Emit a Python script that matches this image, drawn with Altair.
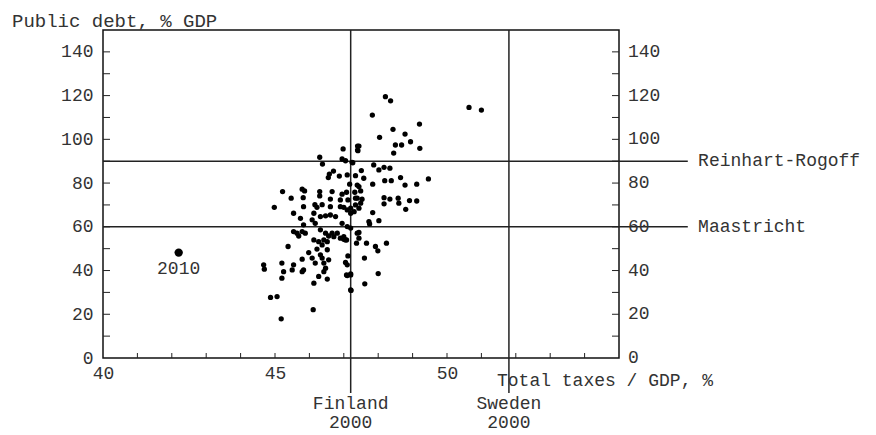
import altair as alt
import pandas as pd

# tax / GDP (%) and public debt (% GDP)
taxes = [
    46.98, 47.40, 47.40, 46.30, 46.38, 46.95, 47.05, 47.24, 46.70, 46.58,
    46.55, 46.87, 47.10, 47.34, 47.17, 47.39, 45.22, 45.47, 45.79, 45.86,
    45.82, 46.30, 46.30, 46.66, 46.95, 47.08, 47.12, 47.32, 47.39, 46.61,
    46.90, 44.98, 45.83, 46.16, 46.37, 46.22, 46.61, 46.90, 47.00, 47.20,
    45.54, 45.74, 46.13, 46.32, 46.47, 46.61, 46.76, 46.08, 45.83, 46.17,
    46.95, 47.10, 47.20, 45.54, 45.64, 45.79, 45.88, 45.69, 46.32, 46.47,
    46.56, 46.66, 46.71, 46.81, 46.90, 47.00, 47.05, 46.42, 46.52, 46.13,
    46.27, 46.37, 47.39, 45.38, 45.98, 46.22, 46.32, 46.52, 45.79, 46.08,
    46.17, 46.37, 46.42, 46.56, 44.67, 44.69, 45.20, 45.25, 45.54, 45.50,
    45.83, 45.79, 46.47, 46.42, 45.20, 46.27, 46.52, 46.13, 47.10, 47.08,
    47.20, 47.20, 44.87, 45.06, 46.11, 45.18,
    48.21, 48.36, 47.83, 50.64, 51.00, 49.20, 48.43, 48.04, 48.78, 48.94,
    48.50, 48.68, 49.21, 48.45, 47.44, 47.41, 47.26, 47.87, 48.02, 48.17,
    48.34, 47.51, 47.58, 48.65, 49.46, 48.19, 48.38, 47.84, 48.78, 49.12,
    47.44, 47.49, 48.17, 48.34, 48.58, 48.91, 49.12, 47.34, 47.53,
    48.17, 48.60, 48.80, 47.84, 47.73, 47.75, 48.02, 47.34, 47.49, 47.44,
    47.20, 47.10, 47.30, 47.44, 47.44, 47.37, 47.66, 47.92, 47.99, 48.24,
    47.00, 47.08, 47.12, 47.05, 47.60, 47.10, 47.20, 48.00, 47.61, 47.21,
]
debt = [
    95.6, 96.9, 95.1, 91.8, 88.7, 91.0, 90.2, 89.5, 85.5, 84.1,
    82.5, 83.2, 83.7, 83.4, 79.5, 79.1, 76.1, 73.1, 77.2, 76.4,
    73.3, 76.1, 74.1, 76.1, 74.9, 75.8, 72.3, 75.8, 73.1, 72.7,
    72.3, 68.9, 69.2, 70.1, 70.1, 68.9, 69.2, 69.2, 68.9, 68.5,
    66.2, 63.9, 66.2, 64.7, 65.0, 65.4, 64.7, 63.2, 60.9, 61.6,
    61.6, 60.1, 59.4, 57.8, 57.1, 57.8, 57.1, 55.8, 58.6, 57.1,
    55.8, 57.1, 55.5, 57.1, 54.8, 55.5, 54.0, 54.0, 53.2, 54.0,
    53.2, 51.7, 57.1, 51.0, 48.2, 49.8, 47.2, 49.5, 45.2, 45.7,
    43.4, 45.7, 43.4, 44.9, 42.6, 40.6, 43.4, 39.5, 42.6, 40.3,
    40.3, 39.5, 41.1, 39.5, 36.5, 37.3, 36.1, 34.2, 42.6, 38.0,
    38.0, 31.2, 27.7, 28.1, 22.1, 17.9,
    119.5, 117.6, 111.1, 114.6, 113.4, 107.0, 104.6, 100.9, 102.4, 98.9,
    97.4, 97.4, 95.9, 93.7, 96.9, 94.8, 89.3, 88.3, 86.0, 87.2,
    86.8, 85.7, 82.2, 82.5, 81.9, 81.1, 81.1, 79.5, 79.1, 79.5,
    78.4, 76.4, 73.3, 72.7, 73.1, 72.0, 71.8, 73.1, 72.6,
    70.5, 70.8, 68.0, 66.5, 62.4, 61.3, 62.8, 70.0, 70.8, 68.5,
    66.2, 67.7, 66.9, 57.4, 54.8, 52.5, 52.5, 51.0, 49.0, 52.5,
    54.3, 54.0, 46.7, 43.7, 45.7, 37.7, 38.5, 38.6, 33.9, 30.9,
]
highlight_tax, highlight_debt = [42.2], [48.2]

thresholds = [90, 60]
threshold_names = ["Reinhart-Rogoff", "Maastricht"]
ref_taxes = [47.2, 51.8]
ref_names = ["Finland", "Sweden"]
y_labels = [0, 20, 40, 60, 80, 100, 120, 140]
x_labels = [40, 45, 50]

FONT = "Liberation Mono"
FS = 18
TXT = "#333333"
xs = alt.Scale(domain=[40, 55], nice=False)
ys = alt.Scale(domain=[0, 150], nice=False)
X = lambda f: alt.X(f, scale=xs, title=None,
                    axis=alt.Axis(values=x_labels, labelPadding=6, labelFlush=False))
Y = lambda f: alt.Y(f, scale=ys, title=None,
                    axis=alt.Axis(values=y_labels, labelPadding=10))

pts = pd.DataFrame({"tax": taxes, "debt": debt})
hl = pd.DataFrame({"tax": highlight_tax, "debt": highlight_debt, "lab": ["2010"]})
hr = pd.DataFrame({"y": thresholds, "x": 40, "x2": 57.0, "lx": 57.3, "name": threshold_names})
vr = pd.DataFrame({"x": ref_taxes, "y": 150, "y2": -16, "name": ref_names, "yr": "2000"})
rl = pd.DataFrame({"y": y_labels, "x": 55, "t": [str(v) for v in y_labels]})

ytick = pd.DataFrame({"y": list(range(10, 150, 10))})
xtick = pd.DataFrame({"x": list(range(41, 55))})

scatter = alt.Chart(pts).mark_circle(color="black", opacity=1, size=28).encode(
    x=X("tax:Q"), y=Y("debt:Q"))

right_labels = alt.Chart(rl).mark_text(font=FONT, fontSize=FS, color=TXT, align="left",
                                       dx=9, clip=False).encode(
    x=X("x:Q"), y=Y("y:Q"), text="t:N")

big = alt.Chart(hl).mark_circle(color="black", opacity=1, size=70).encode(
    x=X("tax:Q"), y=Y("debt:Q"))
big_lab = alt.Chart(hl).mark_text(font=FONT, fontSize=FS, color=TXT, dy=16).encode(
    x=X("tax:Q"), y=Y("debt:Q"), text="lab:N")

hrules = alt.Chart(hr).mark_rule(color="#222", strokeWidth=1.5, clip=False).encode(
    x=X("x:Q"), x2="x2", y=Y("y:Q"))
hlabels = alt.Chart(hr).mark_text(font=FONT, fontSize=FS, color=TXT, align="left",
                                  clip=False).encode(
    x=X("lx:Q"), y=Y("y:Q"), text="name:N")

vrules = alt.Chart(vr).mark_rule(color="#222", strokeWidth=1.5, clip=False).encode(
    x=X("x:Q"), y=Y("y:Q"), y2="y2")
vlab1 = alt.Chart(vr).mark_text(font=FONT, fontSize=FS, color=TXT, clip=False).encode(
    x=X("x:Q"), y=alt.value(374), text="name:N")
vlab2 = alt.Chart(vr).mark_text(font=FONT, fontSize=FS, color=TXT, clip=False).encode(
    x=X("x:Q"), y=alt.value(393), text="yr:N")

lticks = alt.Chart(ytick).mark_rule(color="#222", clip=False).encode(
    x=alt.value(0), x2=alt.value(7), y=Y("y:Q"))
rticks = alt.Chart(ytick).mark_rule(color="#222", clip=False).encode(
    x=alt.value(509), x2=alt.value(516), y=Y("y:Q"))
bticks = alt.Chart(xtick).mark_rule(color="#222", clip=False).encode(
    x=X("x:Q"), y=alt.value(328), y2=alt.value(323))

ytitle = alt.Chart(pd.DataFrame({"t": ["Public debt, % GDP"]})).mark_text(
    font=FONT, fontSize=FS + 1, color=TXT, align="left", baseline="bottom", clip=False).encode(
    x=alt.value(-91), y=alt.value(1), text="t:N")
xtitle = alt.Chart(pd.DataFrame({"t": ["Total taxes / GDP, %"]})).mark_text(
    font=FONT, fontSize=FS, color=TXT, align="left", clip=False).encode(
    x=alt.value(394), y=alt.value(351), text="t:N")

chart = alt.layer(
    hrules, vrules, lticks, rticks, bticks, scatter, big, big_lab,
    right_labels, hlabels, vlab1, vlab2, ytitle, xtitle,
).properties(
    width=516, height=328,
    autosize=alt.AutoSizeParams(type="none"),
    padding={"left": 95, "top": 22, "right": 249, "bottom": 90},
).configure_view(stroke="#111", strokeWidth=1.5).configure_axis(
    grid=False, ticks=False, domain=False, labelFont=FONT, labelFontSize=FS,
    labelColor=TXT,
)

chart.save("out.html", embed_options={"renderer": "svg", "actions": False})
